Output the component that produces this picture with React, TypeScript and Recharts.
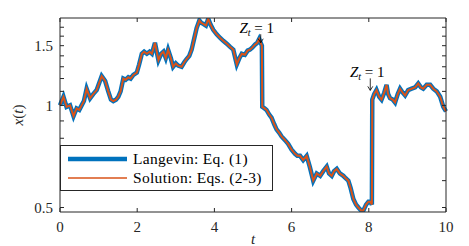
import { Line, LineChart, XAxis, YAxis, Legend, ReferenceDot } from "recharts";

const times = [
  0.0, 0.09, 0.17, 0.26, 0.35, 0.43, 0.5, 0.56, 0.62, 0.69, 0.78, 0.86, 0.95, 1.08, 1.17, 1.25, 1.32, 1.38, 1.45,
  1.51, 1.57, 1.64, 1.7, 1.77, 1.83, 1.9, 1.99, 2.05, 2.12, 2.18, 2.25, 2.32, 2.38, 2.46, 2.55, 2.62, 2.68, 2.74,
  2.8, 2.87, 2.93, 3.0, 3.06, 3.15, 3.22, 3.28, 3.35, 3.41, 3.48, 3.54, 3.61, 3.66, 3.71, 3.78, 3.84, 3.9, 3.97,
  4.06, 4.15, 4.23, 4.32, 4.4, 4.49, 4.58, 4.65, 4.71, 4.79, 4.86, 4.92, 4.98, 5.05, 5.11, 5.16, 5.2, 5.23, 5.24,
  5.3, 5.35, 5.42, 5.48, 5.55, 5.61, 5.68, 5.74, 5.83, 5.91, 6.0, 6.09, 6.15, 6.22, 6.3, 6.39, 6.47, 6.56, 6.65,
  6.74, 6.82, 6.91, 6.97, 7.04, 7.1, 7.17, 7.25, 7.34, 7.4, 7.47, 7.53, 7.6, 7.67, 7.73, 7.8, 7.86, 7.93, 7.99,
  8.04, 8.08, 8.09, 8.14, 8.2, 8.27, 8.33, 8.4, 8.46, 8.5, 8.55, 8.62, 8.68, 8.75, 8.81, 8.88, 8.94, 9.02, 9.11,
  9.2, 9.28, 9.35, 9.41, 9.5, 9.59, 9.67, 9.76, 9.85, 9.93, 10.0,
];

const langevin = [
  1.0, 1.06, 0.99, 1.0, 0.93, 0.98, 0.97, 1.0, 1.03, 1.12, 1.05, 1.08, 1.11, 1.22, 1.18, 1.1, 1.04, 1.03, 1.04,
  1.06, 1.1, 1.2, 1.19, 1.21, 1.2, 1.23, 1.25, 1.32, 1.42, 1.44, 1.42, 1.44, 1.42, 1.53, 1.36, 1.42, 1.44, 1.38,
  1.46, 1.38, 1.3, 1.33, 1.31, 1.3, 1.34, 1.37, 1.4, 1.46, 1.58, 1.69, 1.78, 1.75, 1.74, 1.72, 1.8, 1.73, 1.67,
  1.62, 1.58, 1.55, 1.52, 1.49, 1.46, 1.32, 1.38, 1.42, 1.41, 1.45, 1.46, 1.48, 1.51, 1.53, 1.57, 1.53, 1.5, 0.99,
  0.98, 0.97, 0.94, 0.92, 0.88, 0.85, 0.83, 0.81, 0.79, 0.77, 0.74, 0.72, 0.71, 0.71, 0.69, 0.71, 0.66, 0.6, 0.63,
  0.62, 0.64, 0.66, 0.63, 0.62, 0.64, 0.65, 0.63, 0.62, 0.61, 0.6, 0.57, 0.53, 0.51, 0.5, 0.49, 0.49, 0.51, 0.52,
  0.52, 0.51, 1.04, 1.08, 1.11, 1.06, 1.04, 1.09, 1.15, 1.08, 1.05, 1.04, 1.02, 1.08, 1.12, 1.09, 1.07, 1.11, 1.12,
  1.13, 1.16, 1.13, 1.12, 1.15, 1.15, 1.12, 1.1, 1.06, 0.99, 0.96,
];

// the exact solution sits right on top of the simulation
const solution = [...langevin];

const xTicks = [0, 2, 4, 6, 8, 10];
const yTicks = [0.5, 0.6, 0.7, 0.8, 0.9, 1, 1.1, 1.2, 1.3, 1.4, 1.5, 1.6, 1.7];
const yLabels: Record<string, string> = { "0.5": "0.5", "1": "1", "1.5": "1.5" };

const data = times.map((t, i) => ({ t, langevin: langevin[i], solution: solution[i] }));

const FONT = '"Liberation Serif", "Times New Roman", serif';
const INK = "#262626";
const BLUE = "#0072BD";
const ORANGE = "#D95319";

const legendWidths: Record<string, number> = { langevin: 4.5, solution: 1.5 };

const LegendBox = (props: any) => {
  const items = (props.payload || []).filter((e: any) => e.value !== "frame" && e.type !== "none");
  return (
    <div
      style={{
        width: 211,
        height: 41,
        border: `1px solid ${INK}`,
        background: "#fff",
        fontFamily: FONT,
        fontSize: 15.5,
        color: "#000",
        paddingTop: 3,
        boxSizing: "content-box",
        textAlign: "left",
      }}
    >
      {items.map((e: any) => (
        <div key={e.value} style={{ display: "flex", alignItems: "center", height: 19 }}>
          <svg width={72} height={10}>
            <line x1={7} x2={66} y1={5} y2={5} stroke={e.color} strokeWidth={legendWidths[e.dataKey]} />
          </svg>
          <span style={{ letterSpacing: 0.3, whiteSpace: "nowrap" }}>{e.value}</span>
        </div>
      ))}
    </div>
  );
};

const ZLabel = (props: any) => {
  const { viewBox, dx = 0, textDy = 12, arrowDx = 0 } = props;
  const x = viewBox.x;
  const y = viewBox.y;
  const ax = x + arrowDx;
  return (
    <g>
      <text x={x + dx} y={y - textDy} textAnchor="middle" fontFamily={FONT} fontSize={15} fill="#000">
        <tspan fontStyle="italic">Z</tspan>
        <tspan fontStyle="italic" fontSize={10} dy={3}>
          t
        </tspan>
        <tspan dy={-3}> = 1</tspan>
      </text>
      <path
        d={`M${ax},${y - textDy + 1} L${ax},${y - 1} M${ax - 2.5},${y - 5} L${ax},${y - 1} L${ax + 2.5},${y - 5}`}
        stroke="#000"
        strokeWidth={0.8}
        fill="none"
      />
    </g>
  );
};

const YLabel = (props: any) => {
  const { viewBox } = props;
  const cx = viewBox.x + 18;
  const cy = viewBox.y + viewBox.height / 2;
  return (
    <text
      x={cx}
      y={cy}
      transform={`rotate(-90, ${cx}, ${cy})`}
      textAnchor="middle"
      dominantBaseline="central"
      fontFamily={FONT}
      fontSize={15}
      fill={INK}
    >
      <tspan fontStyle="italic">x</tspan>
      <tspan>(</tspan>
      <tspan fontStyle="italic">t</tspan>
      <tspan>)</tspan>
    </text>
  );
};

const XLabel = (props: any) => {
  const { viewBox } = props;
  return (
    <text
      x={viewBox.x + viewBox.width / 2}
      y={viewBox.y + 32}
      textAnchor="middle"
      fontFamily={FONT}
      fontStyle="italic"
      fontSize={15}
      fill={INK}
    >
      t
    </text>
  );
};

export default function App() {
  const tickStyle = { fontSize: 15, fill: INK, fontFamily: FONT };
  return (
    <div style={{ position: "absolute", left: 0, top: 0, background: "#fff" }}>
      <LineChart width={469} height={246} data={data} margin={{ top: 17, right: 22, left: 0, bottom: 0 }}>
        <XAxis
          xAxisId="b"
          dataKey="t"
          type="number"
          domain={[0, 10]}
          ticks={xTicks}
          interval={0}
          height={34}
          tickSize={-4}
          tickMargin={13}
          tick={tickStyle}
          stroke={INK}
          label={<XLabel />}
        />
        <XAxis
          xAxisId="top"
          orientation="top"
          dataKey="t"
          type="number"
          domain={[0, 10]}
          ticks={xTicks}
          interval={0}
          height={1}
          tickSize={-4}
          tickFormatter={() => ""}
          stroke={INK}
        />
        <YAxis
          yAxisId="l"
          type="number"
          scale="log"
          domain={[0.485, 1.81]}
          allowDataOverflow
          ticks={yTicks}
          interval={0}
          width={60}
          tickSize={-4}
          tickMargin={11}
          tick={tickStyle}
          tickFormatter={(v: number) => yLabels[String(v)] ?? ""}
          stroke={INK}
          label={<YLabel />}
        />
        <YAxis
          yAxisId="r"
          orientation="right"
          type="number"
          scale="log"
          domain={[0.485, 1.81]}
          allowDataOverflow
          ticks={yTicks}
          interval={0}
          width={1}
          tickSize={-4}
          tickFormatter={() => ""}
          stroke={INK}
        />
        {/* invisible copy so that the top and right frame axes get drawn */}
        <Line
          xAxisId="top"
          yAxisId="r"
          dataKey="solution"
          name="frame"
          stroke="none"
          dot={false}
          legendType="none"
          isAnimationActive={false}
        />
        <Line
          xAxisId="b"
          yAxisId="l"
          dataKey="langevin"
          name="Langevin: Eq. (1)"
          stroke={BLUE}
          strokeWidth={4.5}
          dot={false}
          isAnimationActive={false}
        />
        <Line
          xAxisId="b"
          yAxisId="l"
          dataKey="solution"
          name="Solution: Eqs. (2-3)"
          stroke={ORANGE}
          strokeWidth={2}
          dot={false}
          isAnimationActive={false}
        />
        <ReferenceDot
          xAxisId="b"
          yAxisId="l"
          x={5.2}
          y={1.52}
          r={0}
          label={<ZLabel dx={-4} textDy={10.5} arrowDx={0} />}
        />
        <ReferenceDot
          xAxisId="b"
          yAxisId="l"
          x={8.09}
          y={1.1}
          r={0}
          label={<ZLabel dx={-5} textDy={14} arrowDx={-2} />}
        />
        <Legend
          layout="horizontal"
          verticalAlign="middle"
          align="center"
          content={<LegendBox />}
          wrapperStyle={{ position: "absolute", left: 60, top: 145, width: "auto", height: "auto" }}
        />
      </LineChart>
    </div>
  );
}
